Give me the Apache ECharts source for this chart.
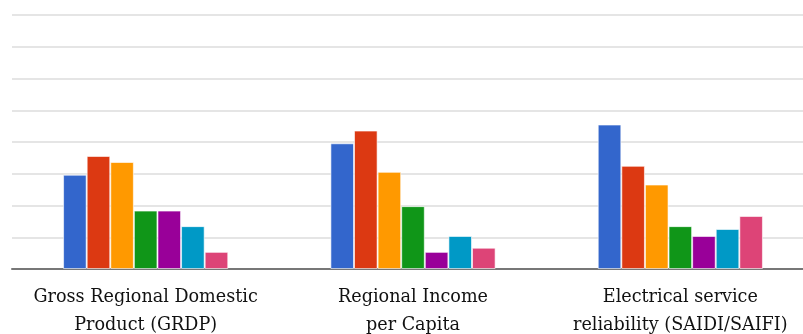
<!DOCTYPE html>
<html>
<head>
<meta charset="utf-8">
<script src="https://cdn.jsdelivr.net/npm/echarts@6/dist/echarts.min.js"></script>
<style>
  html, body { margin: 0; padding: 0; background: #fff; }
  #chart { width: 803px; height: 334px; }
</style>
</head>
<body>
<div id="chart"></div>
<script>
// Indicator groups along the x axis
const categories = [
  'Gross Regional Domestic\nProduct (GRDP)',
  'Regional Income\nper Capita',
  'Electrical service\nreliability (SAIDI/SAIFI)'
];

// Seven series, one value per indicator group
const series1 = [2.97, 3.96, 4.55];
const series2 = [3.56, 4.36, 3.25];
const series3 = [3.37, 3.06, 2.66];
const series4 = [1.84, 1.98, 1.35];
const series5 = [1.84, 0.54, 1.04];
const series6 = [1.35, 1.04, 1.26];
const series7 = [0.54, 0.67, 1.67];

const seriesValues = [series1, series2, series3, series4, series5, series6, series7];
const colors = ['#3366cc', '#dc3912', '#ff9900', '#109618', '#990099', '#0099c6', '#dd4477'];

const chart = echarts.init(document.getElementById('chart'));
chart.setOption({
  animation: false,
  grid: {
    left: 12, top: 15, width: 802, bottom: 65,
    containLabel: false,
    outerBoundsMode: 'none'
  },
  xAxis: {
    type: 'category',
    data: categories,
    axisTick: { show: false },
    axisLine: { show: true, lineStyle: { color: '#777', width: 2 } },
    axisLabel: {
      interval: 0,
      margin: 14,
      fontFamily: 'DejaVu Serif',
      fontSize: 17.6,
      lineHeight: 28,
      color: '#111'
    }
  },
  yAxis: {
    type: 'value',
    min: 0,
    max: 8,
    interval: 1,
    axisLabel: { show: false },
    axisLine: { show: false },
    axisTick: { show: false },
    splitLine: { lineStyle: { color: '#dcdcdc', width: 1.5 } }
  },
  series: seriesValues.map((vals, i) => ({
    type: 'bar',
    data: vals,
    barWidth: 23.6,
    barGap: '0%',
    itemStyle: {
      color: colors[i],
      borderColor: 'rgba(255,255,255,0.6)',
      borderWidth: 1
    }
  }))
});
</script>
</body>
</html>
